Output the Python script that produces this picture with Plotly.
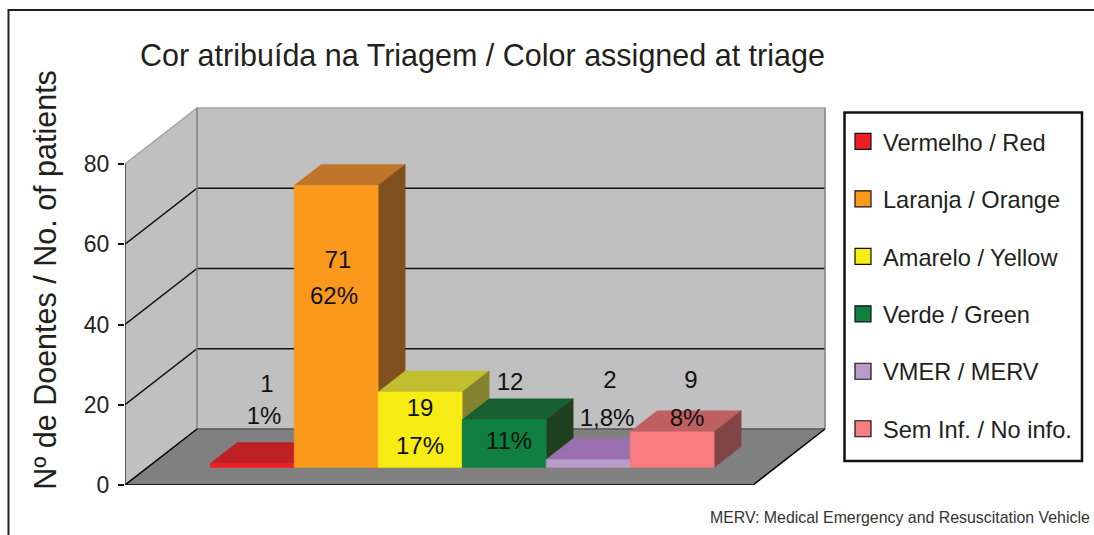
import plotly.graph_objects as go

# ---- data ----
categories = ["Vermelho / Red", "Laranja / Orange", "Amarelo / Yellow",
              "Verde / Green", "VMER / MERV", "Sem Inf. / No info."]
patients = [1, 71, 19, 12, 2, 9]
percent_labels = ["1%", "62%", "17%", "11%", "1,8%", "8%"]
y_ticks = [0, 20, 40, 60, 80]

# ---- style ----
front_colors = ["#EE2024", "#FA991C", "#F7EC13", "#0F8040", "#B89CC9", "#F87D80"]
top_colors = ["#BE2026", "#BF752A", "#C1BE2F", "#16602F", "#9A70AE", "#BF6060"]
side_colors = ["#8A1A1C", "#80501F", "#84812F", "#1E401C", "#7A5A90", "#824545"]
FONT = "Liberation Sans, Arial, sans-serif"
INK = "#231F20"

W, H = 1094, 535
L, R, T, B = 125, 826, 75, 485       # plot rectangle in page pixels
PX_PER_CAT = 84.0
PX_PER_UNIT = 4.0125
x_max = (R - L) / PX_PER_CAT
y_max = (B - T) / PX_PER_UNIT

# oblique projection of the 3-D box, depth 0 (front) to 1 (back)
DX = 72 / PX_PER_CAT
DY = 56 / PX_PER_UNIT
FLOOR_W = (753 - 125) / PX_PER_CAT
BAR_D0 = 0.3125
BAR_D1 = 0.6875
BAR_LEFT = 0.746
BAR_SCALE = 0.99   # bars stand mid-depth, slightly foreshortened


def pt(x, v, d=0.0):
    return x + d * DX, v + d * DY


def poly(points, color, line=None, width=0.5):
    xs, ys = zip(*points)
    return go.Scatter(x=list(xs) + [xs[0]], y=list(ys) + [ys[0]], mode="lines",
                      fill="toself", fillcolor=color,
                      line=dict(color=line or color, width=width),
                      hoverinfo="skip", showlegend=False, cliponaxis=False)


def seg(points, color, width):
    xs, ys = zip(*points)
    return go.Scatter(x=list(xs), y=list(ys), mode="lines",
                      line=dict(color=color, width=width),
                      hoverinfo="skip", showlegend=False, cliponaxis=False)


fig = go.Figure()
top = y_ticks[-1]

# walls
fig.add_trace(poly([pt(0, 0), pt(0, top), pt(0, top, 1), pt(0, 0, 1)], "#C0C0C0"))
fig.add_trace(poly([pt(0, 0, 1), pt(0, top, 1), pt(FLOOR_W, top, 1), pt(FLOOR_W, 0, 1)], "#C0C0C0"))

# grid
for v in y_ticks[1:-1]:
    fig.add_trace(seg([pt(0, v), pt(0, v, 1), pt(FLOOR_W, v, 1)], "#111111", 1.5))
fig.add_trace(seg([pt(0, top), pt(0, top, 1), pt(FLOOR_W, top, 1)], "#A6A6A6", 1.5))
fig.add_trace(seg([pt(0, 0, 1), pt(0, top, 1)], "#808080", 1.5))
fig.add_trace(seg([pt(FLOOR_W, 0, 1), pt(FLOOR_W, top, 1)], "#808080", 1.5))

# floor
fig.add_trace(poly([pt(0, 0), pt(FLOOR_W, 0), pt(FLOOR_W, 0, 1), pt(0, 0, 1)], "#808080"))
fig.add_trace(seg([pt(0, 0, 1), pt(FLOOR_W, 0, 1)], "#595959", 1.5))
fig.add_trace(seg([pt(0, 0, 1), pt(0, 0), pt(FLOOR_W, 0), pt(FLOOR_W, 0, 1)], "#000000", 1.5))
fig.add_trace(seg([pt(0, 0), pt(0, top)], "#333333", 1.5))

# bars
for i, p in enumerate(patients):
    v = p * BAR_SCALE
    x0, x1 = BAR_LEFT + i, BAR_LEFT + i + 1
    d0, d1 = BAR_D0, BAR_D1
    fig.add_trace(poly([pt(x0, v, d0), pt(x1, v, d0), pt(x1, v, d1), pt(x0, v, d1)], top_colors[i]))
    fig.add_trace(poly([pt(x1, 0, d0), pt(x1, v, d0), pt(x1, v, d1), pt(x1, 0, d1)], side_colors[i]))
    fig.add_trace(poly([pt(x0, 0, d0), pt(x1, 0, d0), pt(x1, v, d0), pt(x0, v, d0)], front_colors[i]))

# value labels: page-pixel placement of the text, converted through the axes
count_xy = [(267, 386), (338, 262), (420, 410), (510, 384), (610, 382), (691, 382)]
share_xy = [(264, 418), (334, 298), (420, 448), (509, 443), (607, 420), (687, 420)]
for xy, texts in ((count_xy, [str(p) for p in patients]), (share_xy, percent_labels)):
    fig.add_trace(go.Scatter(
        x=[(px - L) / PX_PER_CAT for px, _ in xy],
        y=[(B - py) / PX_PER_UNIT for _, py in xy],
        mode="text", text=texts, textposition="middle center",
        textfont=dict(family=FONT, size=24, color="#111111"),
        hoverinfo="skip", showlegend=False, cliponaxis=False))

# legend entries
for i, name in enumerate(categories):
    fig.add_trace(go.Scatter(
        x=[None], y=[None], mode="markers", name=name, legendgroup=name,
        marker=dict(symbol="square", size=16, color=front_colors[i],
                    line=dict(color="#111111", width=1.2))))

PW, PH = R - L, B - T


def px_x(px):
    return (px - L) / PW


def px_y(py):
    return (B - py) / PH


fig.update_layout(
    width=W, height=H, autosize=False,
    margin=dict(l=L, r=W - R, t=T, b=H - B, pad=0),
    paper_bgcolor="white", plot_bgcolor="rgba(0,0,0,0)",
    font=dict(family=FONT, color=INK),
    title=dict(text="Cor atribuída na Triagem / Color assigned at triage",
               x=140 / W, xanchor="left", xref="container",
               y=1 - 55 / H, yanchor="middle", yref="container",
               font=dict(family=FONT, size=30.5, color=INK)),
    xaxis=dict(range=[0, x_max], visible=False, fixedrange=True),
    yaxis=dict(range=[0, y_max], tickmode="array", tickvals=y_ticks,
               ticks="outside", ticklen=6, tickwidth=1.5, tickcolor="#111111",
               ticklabelstandoff=4,
               tickfont=dict(family=FONT, size=23, color=INK),
               showgrid=False, zeroline=False, showline=False, fixedrange=True,
               title=dict(text="Nº de Doentes / No. of patients", standoff=18,
                          font=dict(family=FONT, size=30.5, color=INK))),
    legend=dict(x=px_x(843), xanchor="left", y=px_y(119.5), yanchor="top",
                bgcolor="rgba(0,0,0,0)", borderwidth=0,
                font=dict(family=FONT, size=23.6, color=INK),
                tracegroupgap=23.8, traceorder="grouped",
                entrywidth=195, entrywidthmode="pixels",
                itemclick=False, itemdoubleclick=False),
    annotations=[dict(text="MERV: Medical Emergency and Resuscitation Vehicle",
                      xref="paper", yref="paper", x=px_x(708), y=px_y(517),
                      xanchor="left", yanchor="middle", showarrow=False,
                      font=dict(family=FONT, size=15.9, color="#333333"))],
    shapes=[dict(type="path", xref="paper", yref="paper",
                 path="M {:.4f} {:.4f} L {:.4f} {:.4f} L {:.4f} {:.4f}".format(
                     px_x(8.5), px_y(H), px_x(8.5), px_y(10), px_x(W), px_y(10)),
                 line=dict(color=INK, width=2)),
            dict(type="rect", xref="paper", yref="paper",
                 x0=px_x(844.5), x1=px_x(1082), y0=px_y(112.5), y1=px_y(461),
                 line=dict(color="#111111", width=2.5))],
)

fig.write_html("out.html", config={"displayModeBar": False},
               post_script="document.body.style.margin='0';document.body.style.overflow='hidden';")
